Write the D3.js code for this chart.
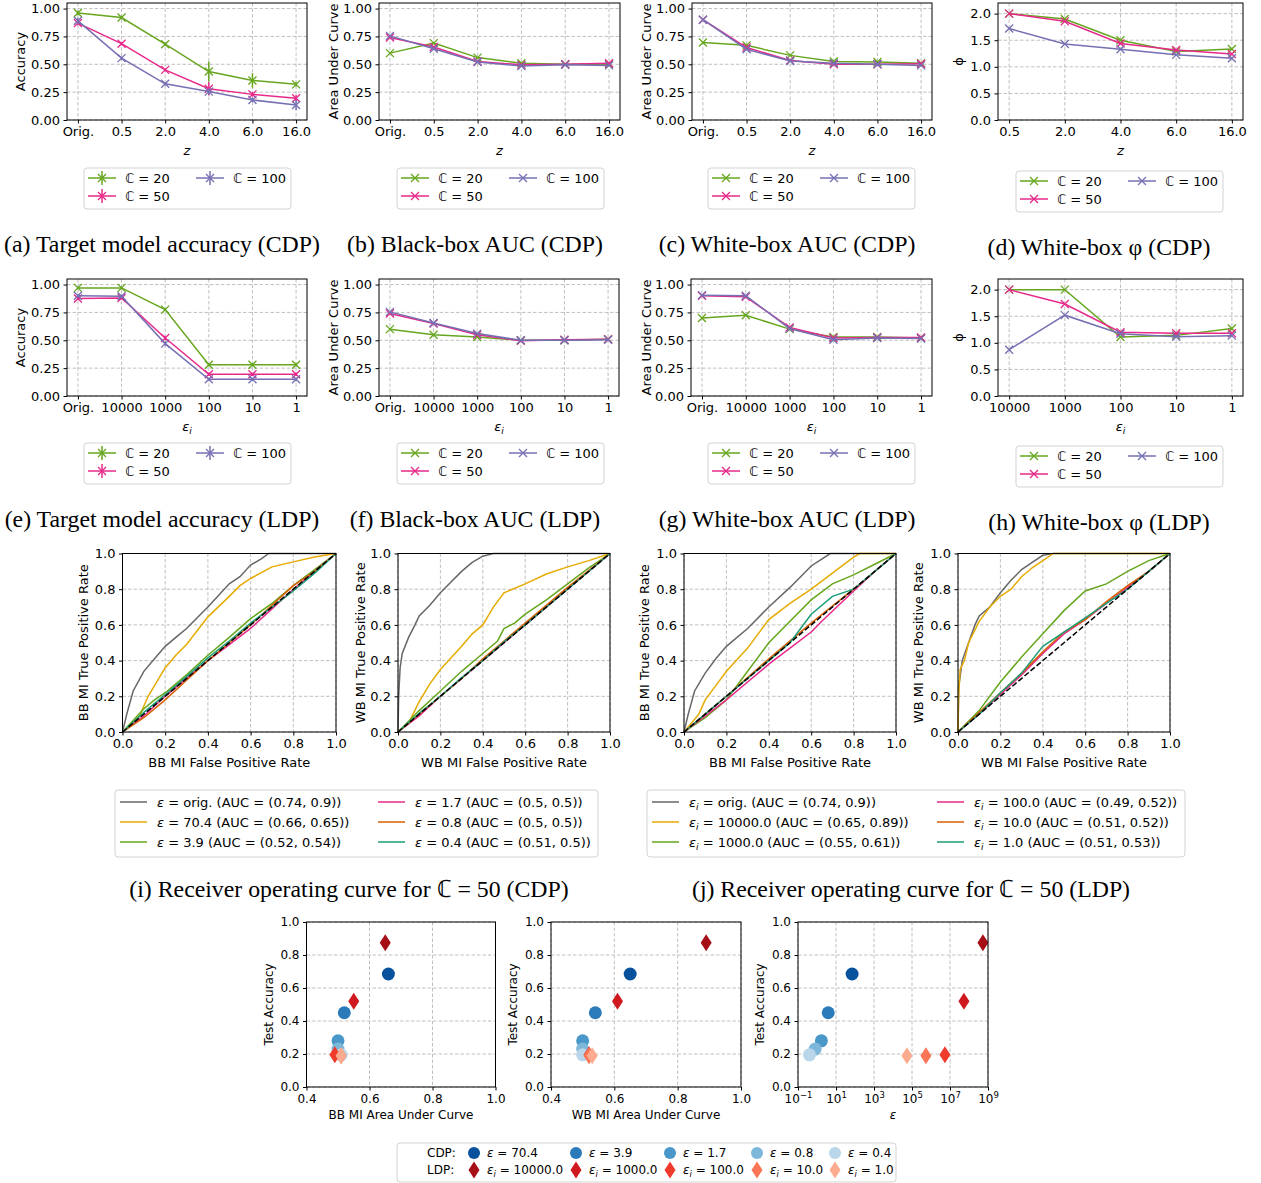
<!DOCTYPE html>
<html>
<head>
<meta charset="utf-8">
<script src="https://cdn.jsdelivr.net/npm/d3@7"></script>
<style>
body { margin: 0; background: #fff; }
.grid line { stroke: #b0b0b0; stroke-dasharray: 3.5,2; stroke-width: 0.8; }
</style>
</head>
<body>
<svg id="fig" width="1261" height="1183"></svg>
<script>
/*global d3*/

// ---------- data ----------
const zLabels = ["Orig.", "0.5", "2.0", "4.0", "6.0", "16.0"];
const zLabelsPhi = ["0.5", "2.0", "4.0", "6.0", "16.0"];
const epsLabels = ["Orig.", "10000", "1000", "100", "10", "1"];
const epsLabelsPhi = ["10000", "1000", "100", "10", "1"];
const classNames = ["\u2102 = 20", "\u2102 = 50", "\u2102 = 100"];
const classColors = ["#66a61e", "#e7298a", "#7570b3"];

// (a) target accuracy, CDP
const cdpAcc20 = [0.96, 0.92, 0.68, 0.435, 0.355, 0.32];
const cdpAcc50 = [0.87, 0.685, 0.45, 0.28, 0.23, 0.195];
const cdpAcc100 = [0.89, 0.555, 0.325, 0.255, 0.18, 0.135];
const cdpAccErr20 = [0.02, 0.015, 0.015, 0.09, 0.065, 0.02];
const cdpAccErr50 = [0.02, 0.015, 0.015, 0.06, 0.02, 0.03];
const cdpAccErr100 = [0.03, 0.015, 0.015, 0.03, 0.02, 0.045];
// (b) black-box AUC, CDP
const cdpBb20 = [0.60, 0.69, 0.56, 0.51, 0.50, 0.50];
const cdpBb50 = [0.74, 0.655, 0.525, 0.495, 0.50, 0.51];
const cdpBb100 = [0.755, 0.64, 0.52, 0.485, 0.495, 0.49];
// (c) white-box AUC, CDP
const cdpWb20 = [0.695, 0.67, 0.58, 0.525, 0.52, 0.51];
const cdpWb50 = [0.90, 0.65, 0.535, 0.50, 0.50, 0.505];
const cdpWb100 = [0.90, 0.635, 0.53, 0.51, 0.50, 0.49];
// (d) white-box phi, CDP
const cdpPhi20 = [2.0, 1.9, 1.5, 1.29, 1.335];
const cdpPhi50 = [2.0, 1.855, 1.44, 1.315, 1.24];
const cdpPhi100 = [1.72, 1.43, 1.33, 1.225, 1.16];
// (e) target accuracy, LDP
const ldpAcc20 = [0.97, 0.97, 0.775, 0.28, 0.28, 0.28];
const ldpAcc50 = [0.875, 0.88, 0.52, 0.195, 0.195, 0.195];
const ldpAcc100 = [0.90, 0.895, 0.47, 0.15, 0.15, 0.15];
const ldpAccErr20 = [0.015, 0.015, 0.015, 0.015, 0.015, 0.015];
const ldpAccErr50 = [0.015, 0.015, 0.02, 0.015, 0.015, 0.015];
const ldpAccErr100 = [0.015, 0.015, 0.02, 0.015, 0.015, 0.015];
// (f) black-box AUC, LDP
const ldpBb20 = [0.60, 0.55, 0.53, 0.50, 0.50, 0.51];
const ldpBb50 = [0.74, 0.65, 0.55, 0.495, 0.505, 0.51];
const ldpBb100 = [0.755, 0.655, 0.56, 0.50, 0.50, 0.505];
// (g) white-box AUC, LDP
const ldpWb20 = [0.70, 0.725, 0.60, 0.53, 0.53, 0.52];
const ldpWb50 = [0.90, 0.89, 0.615, 0.52, 0.525, 0.525];
const ldpWb100 = [0.905, 0.90, 0.605, 0.505, 0.52, 0.515];
// (h) white-box phi, LDP
const ldpPhi20 = [2.0, 2.0, 1.11, 1.14, 1.27];
const ldpPhi50 = [2.0, 1.73, 1.20, 1.18, 1.18];
const ldpPhi100 = [0.87, 1.52, 1.17, 1.115, 1.135];

// ROC curves [fpr, tpr], legend order
const rocColors = ["#666666", "#e6ab02", "#66a61e", "#e7298a", "#d95f02", "#1b9e77"];
const rocCdpLabels = ["orig. (AUC = (0.74, 0.9))", "70.4 (AUC = (0.66, 0.65))", "3.9 (AUC = (0.52, 0.54))",
                      "1.7 (AUC = (0.5, 0.5))", "0.8 (AUC = (0.5, 0.5))", "0.4 (AUC = (0.51, 0.5))"];
const rocLdpLabels = ["orig. (AUC = (0.74, 0.9))", "10000.0 (AUC = (0.65, 0.89))", "1000.0 (AUC = (0.55, 0.61))",
                      "100.0 (AUC = (0.49, 0.52))", "10.0 (AUC = (0.51, 0.52))", "1.0 (AUC = (0.51, 0.53))"];
const rocCdpBb = [
  [[0,0],[0.02,0.1],[0.05,0.23],[0.1,0.34],[0.15,0.41],[0.2,0.48],[0.25,0.53],[0.3,0.58],[0.4,0.7],[0.5,0.83],[0.55,0.87],[0.6,0.935],[0.65,0.97],[0.685,1],[1,1]],
  [[0,0],[0.08,0.09],[0.12,0.2],[0.15,0.26],[0.2,0.36],[0.25,0.43],[0.3,0.49],[0.4,0.645],[0.5,0.76],[0.55,0.82],[0.6,0.86],[0.7,0.925],[0.8,0.953],[0.9,0.98],[1,1]],
  [[0,0],[0.1,0.13],[0.15,0.18],[0.2,0.22],[0.3,0.32],[0.4,0.43],[0.5,0.53],[0.6,0.635],[0.7,0.72],[0.8,0.82],[0.9,0.91],[1,1]],
  [[0,0],[0.1,0.09],[0.2,0.2],[0.3,0.3],[0.4,0.4],[0.5,0.49],[0.6,0.58],[0.7,0.69],[0.8,0.8],[0.9,0.9],[1,1]],
  [[0,0],[0.1,0.08],[0.2,0.18],[0.3,0.29],[0.4,0.4],[0.5,0.5],[0.6,0.6],[0.7,0.71],[0.8,0.82],[0.9,0.9],[1,1]],
  [[0,0],[0.1,0.11],[0.2,0.21],[0.3,0.31],[0.4,0.415],[0.5,0.51],[0.6,0.61],[0.7,0.7],[0.8,0.79],[0.9,0.89],[1,1]]
];
const rocCdpWb = [
  [[0,0],[0.003,0.2],[0.01,0.36],[0.02,0.44],[0.05,0.53],[0.08,0.6],[0.1,0.65],[0.15,0.71],[0.2,0.78],[0.25,0.84],[0.3,0.9],[0.35,0.95],[0.4,0.985],[0.45,1],[1,1]],
  [[0,0],[0.05,0.05],[0.1,0.17],[0.15,0.27],[0.2,0.35],[0.3,0.48],[0.35,0.55],[0.4,0.6],[0.45,0.7],[0.5,0.78],[0.6,0.83],[0.7,0.885],[0.8,0.925],[0.9,0.96],[1,1]],
  [[0,0],[0.1,0.12],[0.2,0.23],[0.3,0.34],[0.4,0.44],[0.47,0.51],[0.5,0.58],[0.55,0.61],[0.6,0.66],[0.7,0.74],[0.8,0.83],[0.9,0.92],[1,1]],
  [[0,0],[0.1,0.09],[0.2,0.2],[0.3,0.3],[0.4,0.4],[0.5,0.5],[0.6,0.6],[0.8,0.8],[1,1]],
  [[0,0],[0.1,0.1],[0.2,0.2],[0.3,0.3],[0.4,0.41],[0.5,0.51],[0.6,0.61],[0.8,0.81],[1,1]],
  [[0,0],[0.1,0.105],[0.2,0.2],[0.3,0.305],[0.4,0.4],[0.5,0.505],[0.6,0.6],[0.8,0.8],[1,1]]
];
const rocLdpBb = [
  [[0,0],[0.02,0.1],[0.05,0.23],[0.1,0.33],[0.15,0.41],[0.2,0.48],[0.3,0.58],[0.4,0.7],[0.5,0.81],[0.6,0.93],[0.69,1],[1,1]],
  [[0,0],[0.07,0.1],[0.1,0.18],[0.15,0.26],[0.2,0.34],[0.3,0.47],[0.4,0.63],[0.5,0.72],[0.6,0.8],[0.7,0.89],[0.8,0.98],[0.83,1],[1,1]],
  [[0,0],[0.1,0.08],[0.2,0.18],[0.3,0.34],[0.4,0.5],[0.5,0.62],[0.6,0.74],[0.7,0.83],[0.8,0.88],[0.9,0.94],[1,1]],
  [[0,0],[0.2,0.18],[0.3,0.28],[0.4,0.38],[0.5,0.47],[0.6,0.56],[0.65,0.62],[0.8,0.79],[0.9,0.9],[1,1]],
  [[0,0],[0.1,0.1],[0.2,0.2],[0.4,0.41],[0.6,0.61],[0.8,0.8],[1,1]],
  [[0,0],[0.1,0.1],[0.2,0.2],[0.4,0.4],[0.5,0.5],[0.55,0.58],[0.6,0.66],[0.7,0.76],[0.8,0.8],[0.9,0.9],[1,1]]
];
const rocLdpWb = [
  [[0,0],[0.003,0.25],[0.02,0.4],[0.05,0.5],[0.08,0.6],[0.1,0.65],[0.15,0.7],[0.2,0.78],[0.25,0.85],[0.3,0.91],[0.35,0.95],[0.4,0.99],[0.45,1],[1,1]],
  [[0,0],[0.003,0.2],[0.01,0.35],[0.03,0.4],[0.05,0.5],[0.1,0.62],[0.15,0.7],[0.2,0.76],[0.25,0.8],[0.3,0.87],[0.35,0.92],[0.4,0.96],[0.45,1],[1,1]],
  [[0,0],[0.1,0.12],[0.15,0.2],[0.2,0.28],[0.3,0.42],[0.4,0.55],[0.5,0.68],[0.6,0.79],[0.7,0.83],[0.8,0.9],[0.9,0.96],[1,1]],
  [[0,0],[0.1,0.1],[0.2,0.21],[0.3,0.32],[0.4,0.44],[0.5,0.55],[0.6,0.63],[0.7,0.72],[0.8,0.81],[0.9,0.9],[1,1]],
  [[0,0],[0.1,0.11],[0.2,0.22],[0.3,0.33],[0.4,0.45],[0.5,0.56],[0.6,0.63],[0.7,0.73],[0.8,0.82],[0.9,0.9],[1,1]],
  [[0,0],[0.1,0.1],[0.2,0.22],[0.3,0.33],[0.4,0.48],[0.5,0.56],[0.6,0.64],[0.7,0.72],[0.8,0.8],[0.9,0.9],[1,1]]
];

// accuracy vs AUC / epsilon
const cdpEps = [70.4, 3.9, 1.7, 0.8, 0.4];
const cdpTestAcc = [0.685, 0.45, 0.28, 0.23, 0.195];
const cdpBbAuc = [0.66, 0.52, 0.50, 0.50, 0.51];
const cdpWbAuc = [0.65, 0.54, 0.50, 0.50, 0.50];
const cdpBlues = ["#08519c", "#2b7bba", "#4a98c9", "#7db8da", "#b9d6ea"];
const ldpEpsI = ["10000.0", "1000.0", "100.0", "10.0", "1.0"];
const ldpEpsTotal = [5.4e8, 5.4e7, 5.4e6, 5.4e5, 5.4e4];
const ldpTestAcc = [0.875, 0.52, 0.195, 0.19, 0.19];
const ldpBbAuc = [0.65, 0.55, 0.49, 0.51, 0.51];
const ldpWbAuc = [0.89, 0.61, 0.52, 0.52, 0.53];
const ldpReds = ["#a50f15", "#d0191f", "#ee3b2c", "#fa7656", "#fcab8f"];

// ---------- drawing ----------
const FONT = "DejaVu Sans, sans-serif";
const SERIF = "Liberation Serif, Times New Roman, serif";
const CAP_SIZE = 23.8;
const svg = d3.select("#fig");
svg.append("rect").attr("width", 1261).attr("height", 1183).attr("fill", "#fff");

const grid = (g, xs, ys, x0, x1, y0, y1) => {
    const gg = g.append("g").attr("class", "grid");
    xs.forEach(x => gg.append("line").attr("x1", x).attr("x2", x).attr("y1", y0).attr("y2", y1));
    ys.forEach(y => gg.append("line").attr("x1", x0).attr("x2", x1).attr("y1", y).attr("y2", y));
};

const frame = (g, x0, x1, y0, y1) => {
    g.append("rect")
        .attr("x", x0).attr("y", y0)
        .attr("width", x1 - x0).attr("height", y1 - y0)
        .attr("fill", "none").attr("stroke", "#000").attr("stroke-width", 1);
};

const styleAxis = (sel, size) => {
    sel.attr("font-family", FONT).attr("font-size", size);
    sel.select(".domain").remove();
    sel.selectAll(".tick line").attr("stroke", "#000");
    sel.selectAll(".tick text").attr("fill", "#000");
};

const xMarker = (g, cx, cy, color) => {
    g.append("path")
        .attr("d", `M${cx - 4},${cy - 4}L${cx + 4},${cy + 4}M${cx - 4},${cy + 4}L${cx + 4},${cy - 4}`)
        .attr("stroke", color).attr("stroke-width", 1.3).attr("fill", "none");
};

// italic epsilon, optional subscript i, then the rest of the label on the normal baseline
const epsText = (t, sub, size, rest) => {
    t.append("tspan").attr("font-style", "italic").text("\u03b5");
    let back = 0;
    if (sub) {
        t.append("tspan").attr("font-style", "italic").attr("font-size", size * 0.7)
            .attr("dy", size * 0.25).text("i");
        back = -size * 0.25;
    }
    if (rest) {
        t.append("tspan").attr("dy", back).text(rest);
    }
};

const caption = (text, cx, cy) => {
    svg.append("text")
        .attr("x", cx).attr("y", cy)
        .attr("text-anchor", "middle")
        .attr("font-family", SERIF).attr("font-size", CAP_SIZE)
        .text(text);
};

const classLegend = (x0, y0, withErr) => {
    const g = svg.append("g").attr("transform", "translate(" + x0 + "," + y0 + ")");
    g.append("rect").attr("width", 207).attr("height", 41).attr("rx", 3)
        .attr("fill", "#fff").attr("stroke", "#d3d3d3");
    const slots = [[0, 10], [0, 28], [108, 10]];
    classNames.forEach((name, i) => {
        const [dx, dy] = slots[i];
        g.append("line").attr("x1", dx + 4).attr("x2", dx + 32).attr("y1", dy).attr("y2", dy)
            .attr("stroke", classColors[i]).attr("stroke-width", 1.5);
        xMarker(g, dx + 18, dy, classColors[i]);
        if (withErr) {
            g.append("line").attr("x1", dx + 18).attr("x2", dx + 18).attr("y1", dy - 7).attr("y2", dy + 7)
                .attr("stroke", classColors[i]).attr("stroke-width", 1.5);
        }
        g.append("text").attr("x", dx + 41).attr("y", dy).attr("dy", "0.35em")
            .attr("font-family", FONT).attr("font-size", 13).text(name);
    });
};

const linePanel = o => {
    const g = svg.append("g");
    const x = d3.scalePoint().domain(o.cats).range([o.left, o.right]).padding(o.pad);
    const y = d3.scaleLinear().domain([0, o.yMax]).range([o.bottom, o.top]);

    grid(g, o.cats.map(x), o.yTicks.map(y), o.left, o.right, o.top, o.bottom);

    o.series.forEach((vals, i) => {
        const pts = vals.map((v, j) => [x(o.cats[j]), y(v)]);
        g.append("path")
            .attr("d", d3.line()(pts))
            .attr("fill", "none").attr("stroke", classColors[i]).attr("stroke-width", 1.5);
        if (o.errs) {
            o.errs[i].forEach((e, j) => {
                g.append("line")
                    .attr("x1", pts[j][0]).attr("x2", pts[j][0])
                    .attr("y1", y(vals[j] - e)).attr("y2", y(vals[j] + e))
                    .attr("stroke", classColors[i]).attr("stroke-width", 1.5);
            });
        }
        pts.forEach(p => xMarker(g, p[0], p[1], classColors[i]));
    });

    frame(g, o.left, o.right, o.top, o.bottom);

    g.append("g")
        .attr("transform", "translate(0," + o.bottom + ")")
        .call(d3.axisBottom(x).tickSize(3.5).tickPadding(3.5))
        .call(s => styleAxis(s, 13));

    g.append("g")
        .attr("transform", "translate(" + o.left + ",0)")
        .call(d3.axisLeft(y).tickValues(o.yTicks).tickFormat(d3.format(o.yFmt)).tickSize(3.5).tickPadding(3.5))
        .call(s => styleAxis(s, 13));

    g.append("text")
        .attr("transform", "translate(" + o.yLabelX + "," + (o.top + o.bottom) / 2 + ") rotate(-90)")
        .attr("text-anchor", "middle").attr("dy", "0.35em")
        .attr("font-family", FONT).attr("font-size", 13)
        .text(o.yLabel);

    const xl = g.append("text")
        .attr("x", (o.left + o.right) / 2).attr("y", o.bottom + 35)
        .attr("text-anchor", "middle")
        .attr("font-family", FONT).attr("font-size", 13);
    if (o.xLabel === "z") {
        xl.attr("font-style", "italic").text("z");
    } else {
        epsText(xl, true, 13);
    }
};

const rocPanel = o => {
    const g = svg.append("g");
    const x = d3.scaleLinear().domain([0, 1]).range([o.left, o.right]);
    const y = d3.scaleLinear().domain([0, 1]).range([o.bottom, o.top]);
    const ticks = [0, 0.2, 0.4, 0.6, 0.8, 1.0];

    grid(g, ticks.map(x), ticks.map(y), o.left, o.right, o.top, o.bottom);

    const line = d3.line().x(d => x(d[0])).y(d => y(d[1]));
    o.curves.forEach((c, i) => {
        g.append("path").attr("d", line(c))
            .attr("fill", "none").attr("stroke", rocColors[i]).attr("stroke-width", 1.5);
    });
    g.append("path").attr("d", line([[0, 0], [1, 1]]))
        .attr("fill", "none").attr("stroke", "#000").attr("stroke-width", 1.5)
        .attr("stroke-dasharray", "5.5,2.4");

    frame(g, o.left, o.right, o.top, o.bottom);

    g.append("g")
        .attr("transform", "translate(0," + o.bottom + ")")
        .call(d3.axisBottom(x).tickValues(ticks).tickFormat(d3.format(".1f")).tickSize(3.5).tickPadding(3.5))
        .call(s => styleAxis(s, 13));
    g.append("g")
        .attr("transform", "translate(" + o.left + ",0)")
        .call(d3.axisLeft(y).tickValues(ticks).tickFormat(d3.format(".1f")).tickSize(3.5).tickPadding(3.5))
        .call(s => styleAxis(s, 13));

    g.append("text")
        .attr("transform", "translate(" + o.yLabelX + "," + (o.top + o.bottom) / 2 + ") rotate(-90)")
        .attr("text-anchor", "middle").attr("dy", "0.35em")
        .attr("font-family", FONT).attr("font-size", 13)
        .text(o.prefix + " MI True Positive Rate");
    g.append("text")
        .attr("x", (o.left + o.right) / 2).attr("y", o.bottom + 34.5)
        .attr("text-anchor", "middle")
        .attr("font-family", FONT).attr("font-size", 13)
        .text(o.prefix + " MI False Positive Rate");
};

const rocLegend = (x0, y0, w, col2, labels, sub) => {
    const g = svg.append("g").attr("transform", "translate(" + x0 + "," + y0 + ")");
    g.append("rect").attr("width", w).attr("height", 67).attr("rx", 3)
        .attr("fill", "#fff").attr("stroke", "#d3d3d3");
    labels.forEach((lab, i) => {
        const dx = i < 3 ? 5 : col2,
              dy = 12 + (i % 3) * 20;
        g.append("line").attr("x1", dx).attr("x2", dx + 27).attr("y1", dy).attr("y2", dy)
            .attr("stroke", rocColors[i]).attr("stroke-width", 1.5);
        const t = g.append("text").attr("x", dx + 37).attr("y", dy + 4.5)
            .attr("font-family", FONT).attr("font-size", 13);
        epsText(t, sub, 13, " = " + lab);
    });
};

const diamondPath = (cx, cy) =>
    `M${cx},${cy - 8.5}L${cx + 5.5},${cy}L${cx},${cy + 8.5}L${cx - 5.5},${cy}Z`;

const scatterPanel = o => {
    const g = svg.append("g");
    const top = 922, bottom = 1087;
    const x = o.log
        ? d3.scaleLog().domain([0.1, 1e9]).range([o.left, o.right])
        : d3.scaleLinear().domain([0.4, 1.0]).range([o.left, o.right]);
    const y = d3.scaleLinear().domain([0, 1]).range([bottom, top]);
    const xTicks = o.log ? [0.1, 10, 1e3, 1e5, 1e7, 1e9] : [0.4, 0.6, 0.8, 1.0];
    const yTicks = [0, 0.2, 0.4, 0.6, 0.8, 1.0];

    grid(g, xTicks.map(x), yTicks.map(y), o.left, o.right, top, bottom);

    o.cdpX.forEach((v, i) => {
        g.append("circle").attr("cx", x(v)).attr("cy", y(cdpTestAcc[i])).attr("r", 6.5)
            .attr("fill", cdpBlues[i]);
    });
    o.ldpX.forEach((v, i) => {
        g.append("path").attr("d", diamondPath(x(v), y(ldpTestAcc[i])))
            .attr("fill", ldpReds[i]);
    });

    frame(g, o.left, o.right, top, bottom);

    const xa = g.append("g")
        .attr("transform", "translate(0," + bottom + ")")
        .call(d3.axisBottom(x).tickValues(xTicks).tickFormat(o.log ? () => "" : d3.format(".1f"))
              .tickSize(3.5).tickPadding(3.5))
        .call(s => styleAxis(s, 12));
    if (o.log) {
        xa.selectAll(".tick text").each(function(d) {
            const t = d3.select(this);
            t.append("tspan").text("10");
            t.append("tspan").attr("font-size", 8.5).attr("dy", -5)
                .text(String(Math.round(Math.log10(d))).replace("-", "\u2212"));
        });
    }
    g.append("g")
        .attr("transform", "translate(" + o.left + ",0)")
        .call(d3.axisLeft(y).tickValues(yTicks).tickFormat(d3.format(".1f")).tickSize(3.5).tickPadding(3.5))
        .call(s => styleAxis(s, 12));

    g.append("text")
        .attr("transform", "translate(" + (o.left - 38) + "," + (top + bottom) / 2 + ") rotate(-90)")
        .attr("text-anchor", "middle").attr("dy", "0.35em")
        .attr("font-family", FONT).attr("font-size", 12)
        .text("Test Accuracy");
    const xl = g.append("text")
        .attr("x", (o.left + o.right) / 2).attr("y", bottom + 32)
        .attr("text-anchor", "middle")
        .attr("font-family", FONT).attr("font-size", 12);
    if (o.log) epsText(xl, false, 12); else xl.text(o.xLabel);
};

// ---------- rows 1 and 2 ----------
const rowPanels = [
    {top: 3, bottom: 120, cats: zLabels, capY: 252,
     list: [
        {left: 67, right: 307, series: [cdpAcc20, cdpAcc50, cdpAcc100], errs: [cdpAccErr20, cdpAccErr50, cdpAccErr100],
         yLabel: "Accuracy", yLabelX: 20, cap: "(a) Target model accuracy (CDP)", capX: 162},
        {left: 379, right: 620, series: [cdpBb20, cdpBb50, cdpBb100],
         yLabel: "Area Under Curve", yLabelX: 333, cap: "(b) Black-box AUC (CDP)", capX: 475},
        {left: 692, right: 932, series: [cdpWb20, cdpWb50, cdpWb100],
         yLabel: "Area Under Curve", yLabelX: 646, cap: "(c) White-box AUC (CDP)", capX: 787},
        {left: 998, right: 1243, series: [cdpPhi20, cdpPhi50, cdpPhi100], phi: true,
         yLabel: "\u03d5", yLabelX: 958, cap: "(d) White-box \u03c6 (CDP)", capX: 1099}
     ], legendY: 168, xLabel: "z", phiCats: zLabelsPhi},
    {top: 279, bottom: 396, cats: epsLabels, capY: 527,
     list: [
        {left: 67, right: 307, series: [ldpAcc20, ldpAcc50, ldpAcc100], errs: [ldpAccErr20, ldpAccErr50, ldpAccErr100],
         yLabel: "Accuracy", yLabelX: 20, cap: "(e) Target model accuracy (LDP)", capX: 162},
        {left: 379, right: 619, series: [ldpBb20, ldpBb50, ldpBb100],
         yLabel: "Area Under Curve", yLabelX: 333, cap: "(f) Black-box AUC (LDP)", capX: 475},
        {left: 691, right: 932, series: [ldpWb20, ldpWb50, ldpWb100],
         yLabel: "Area Under Curve", yLabelX: 646, cap: "(g) White-box AUC (LDP)", capX: 787},
        {left: 998, right: 1243, series: [ldpPhi20, ldpPhi50, ldpPhi100], phi: true,
         yLabel: "\u03d5", yLabelX: 958, cap: "(h) White-box \u03c6 (LDP)", capX: 1099}
     ], legendY: 443, xLabel: "eps", phiCats: epsLabelsPhi}
];

const legendXs = [84, 397, 708, 1016];

rowPanels.forEach(row => {
    row.list.forEach((p, k) => {
        linePanel({
            left: p.left, right: p.right, top: row.top, bottom: row.bottom,
            cats: p.phi ? row.phiCats : row.cats,
            pad: p.phi ? 0.2 : 0.25,
            yMax: p.phi ? 2.2 : 1.05,
            yTicks: p.phi ? [0, 0.5, 1.0, 1.5, 2.0] : [0, 0.25, 0.5, 0.75, 1.0],
            yFmt: p.phi ? ".1f" : ".2f",
            series: p.series, errs: p.errs,
            yLabel: p.yLabel, yLabelX: p.yLabelX, xLabel: row.xLabel
        });
        classLegend(legendXs[k], row.legendY + (p.phi ? 3 : 0), !!p.errs);
        caption(p.cap, p.capX, row.capY + (p.phi ? 3 : 0));
    });
});

// ---------- ROC row ----------
rocPanel({left: 122.5, right: 336, top: 553.5, bottom: 732, curves: rocCdpBb, prefix: "BB", yLabelX: 83});
rocPanel({left: 398, right: 610, top: 553.5, bottom: 732, curves: rocCdpWb, prefix: "WB", yLabelX: 360});
rocPanel({left: 684, right: 896, top: 553.5, bottom: 732, curves: rocLdpBb, prefix: "BB", yLabelX: 644});
rocPanel({left: 958, right: 1170, top: 553.5, bottom: 732, curves: rocLdpWb, prefix: "WB", yLabelX: 918});

rocLegend(115, 790, 483, 263, rocCdpLabels, false);
rocLegend(647, 790, 538, 290, rocLdpLabels, true);

caption("(i) Receiver operating curve for \u2102 = 50 (CDP)", 349, 897);
caption("(j) Receiver operating curve for \u2102 = 50 (LDP)", 911, 897);

// ---------- accuracy vs AUC / epsilon ----------
scatterPanel({left: 306.5, right: 495.5, cdpX: cdpBbAuc, ldpX: ldpBbAuc, xLabel: "BB MI Area Under Curve"});
scatterPanel({left: 551, right: 741, cdpX: cdpWbAuc, ldpX: ldpWbAuc, xLabel: "WB MI Area Under Curve"});
scatterPanel({left: 798, right: 988, cdpX: cdpEps, ldpX: ldpEpsTotal, log: true});

// shared legend
const leg = svg.append("g").attr("transform", "translate(397,1143)");
leg.append("rect").attr("width", 499).attr("height", 39).attr("rx", 3)
    .attr("fill", "#fff").attr("stroke", "#d3d3d3");
const legXs = [77, 179, 273, 360, 438];
[["CDP:", 10], ["LDP:", 27]].forEach(([lab, dy]) => {
    leg.append("text").attr("x", 30).attr("y", dy + 4.2)
        .attr("font-family", FONT).attr("font-size", 12).text(lab);
});
cdpEps.forEach((e, i) => {
    leg.append("circle").attr("cx", legXs[i]).attr("cy", 10).attr("r", 6).attr("fill", cdpBlues[i]);
    const t = leg.append("text").attr("x", legXs[i] + 13).attr("y", 14.2)
        .attr("font-family", FONT).attr("font-size", 12);
    epsText(t, false, 12, " = " + e);
});
ldpEpsI.forEach((e, i) => {
    leg.append("path").attr("d", diamondPath(legXs[i], 27)).attr("fill", ldpReds[i]);
    const t = leg.append("text").attr("x", legXs[i] + 13).attr("y", 31.2)
        .attr("font-family", FONT).attr("font-size", 12);
    epsText(t, true, 12, " = " + e);
});
</script>
</body>
</html>
